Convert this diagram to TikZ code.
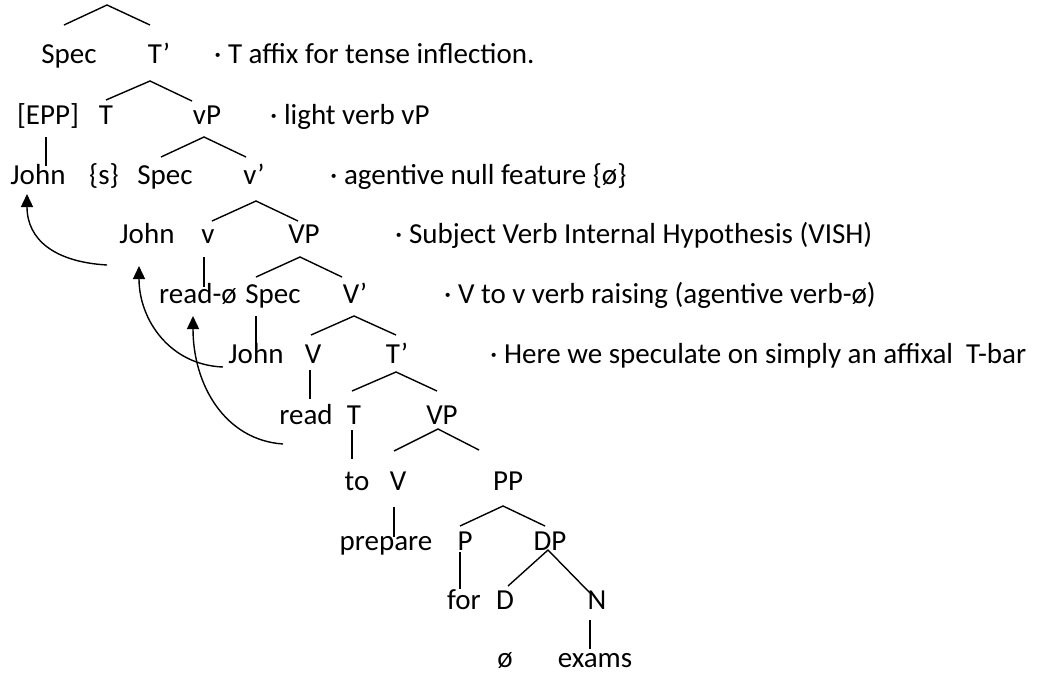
\documentclass[tikz,border=0pt]{standalone}
\usepackage{fontspec}
\setmainfont{Carlito}
\usetikzlibrary{arrows.meta}
\begin{document}
\begin{tikzpicture}[x=1pt,y=-1pt,
  lbl/.style={inner sep=0pt,anchor=base,font=\fontsize{29}{34}\selectfont},
  note/.style={inner sep=0pt,anchor=base west,font=\fontsize{29}{34}\selectfont},
  edge/.style={line width=1.4pt,black},
  mv/.style={line width=1.4pt,black,-{Triangle[length=13pt,width=12pt]}}]
\useasboundingbox (0,0) rectangle (1041,673);
% row 1
\node[lbl] (spec1) at (69,63) {Spec};
\node[lbl] (tbar1) at (159,63) {T’};
\node[note] (n1) at (214,63) {· T affix for tense inflection.};
% row 2
\node[lbl] (epp) at (48,124) {[EPP]};
\node[lbl] (t1) at (106,124) {T};
\node[lbl] (vP) at (207,124) {vP};
\node[note] (n2) at (270,124) {· light verb vP};
% row 3
\node[lbl] (john1) at (38,184) {John};
\node[lbl] (s) at (104,184) {\{s\}};
\node[lbl] (spec2) at (165,184) {Spec};
\node[lbl] (vbar) at (254,184) {v’};
\node[note] (n3) at (330,184) {· agentive null feature \{ø\}};
% row 4
\node[lbl] (john2) at (147,243) {John};
\node[lbl] (v) at (208,243) {v};
\node[lbl] (VP1) at (304,243) {VP};
\node[note] (n4) at (395,243) {· Subject Verb Internal Hypothesis (VISH)};
% row 5
\node[lbl] (readnull) at (198,303) {read-ø};
\node[lbl] (spec3) at (273,303) {Spec};
\node[lbl] (Vbar) at (355,303) {V’};
\node[note] (n5) at (444,303) {· V to v verb raising (agentive verb-ø)};
% row 6
\node[lbl] (john3) at (256,363) {John};
\node[lbl] (V1) at (313,363) {V};
\node[lbl] (tbar2) at (397,363) {T’};
\node[note] (n6) at (490,363) {· Here we speculate on simply an affixal\ \ T-bar};
% row 7
\node[lbl] (read) at (306,424) {read};
\node[lbl] (t2) at (354,424) {T};
\node[lbl] (VP2) at (442,424) {VP};
% row 8
\node[lbl] (to) at (357,490) {to};
\node[lbl] (V2) at (398,490) {V};
\node[lbl] (PP) at (508,490) {PP};
% row 9
\node[lbl] (prepare) at (386,550) {prepare};
\node[lbl] (P) at (465,550) {P};
\node[lbl] (DP) at (550,550) {DP};
% row 10
\node[lbl] (for) at (464,609) {for};
\node[lbl] (D) at (505,609) {D};
\node[lbl] (N) at (597,609) {N};
% row 11
\node[lbl,text depth=0pt] (null) at (505,667) {ø};
\node[lbl,text depth=0pt] (exams) at (595,667) {exams};
% branches
\draw[edge] (64,25) -- (107,5) -- (150,25);
\draw[edge] (106,100) -- (150,81) -- (192,101);
\draw[edge] (161,157) -- (204,137) -- (246,157);
\draw[edge] (212,221) -- (256,201) -- (298,221);
\draw[edge] (256,277) -- (300,257) -- (342,277);
\draw[edge] (311,335) -- (354,316) -- (396,335);
\draw[edge] (352,391) -- (396,372) -- (437,391);
\draw[edge] (394,451) -- (438,429) -- (479,450);
\draw[edge] (460,526) -- (503,506) -- (545,526);
\draw[edge] (508,586) -- (548,550) -- (590,593);
% unary lines
\draw[edge] (46,137) -- (46,166);
\draw[edge] (204,257) -- (204,287);
\draw[edge] (256,316) -- (256,344);
\draw[edge] (310,370) -- (310,399);
\draw[edge] (352,430) -- (352,459);
\draw[edge] (394,507) -- (394,537);
\draw[edge] (460,552) -- (460,589);
\draw[edge] (590,620) -- (590,649);
% movement arrows
\coordinate (a1s) at (107,265);
\coordinate (a1e) at (27,194);
\coordinate (a2s) at (223,367);
\coordinate (a2e) at (139,266);
\coordinate (a3s) at (283,444);
\coordinate (a3e) at (193,316);
\draw[mv] (a1s) .. controls (55,262) and (27,240) .. (a1e);
\draw[mv] (a2s) .. controls (170,365) and (139,320) .. (a2e);
\draw[mv] (a3s) .. controls (225,440) and (193,385) .. (a3e);
\end{tikzpicture}
\end{document}
